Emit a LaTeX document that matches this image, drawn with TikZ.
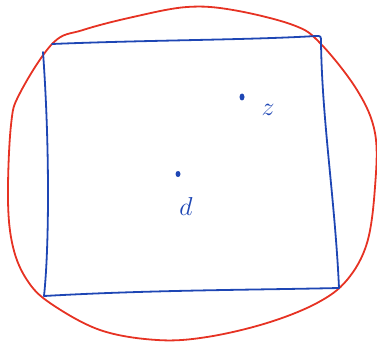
\documentclass[tikz,border=0pt]{standalone}
\usepackage{tikz}
\definecolor{penblue}{RGB}{30,70,180}
\definecolor{penred}{RGB}{230,50,35}
\tikzset{
 bluepen/.style={draw=penblue, line width=1.8pt, line cap=round, line join=round},
 redpen/.style={draw=penred, line width=1.8pt, line cap=round, line join=round},
 pointdot/.style={ellipse, fill=penblue, inner sep=0pt, minimum width=5pt, minimum height=7pt},
 hand/.style={text=penblue, font=\LARGE, scale=1.5}
}
\usetikzlibrary{shapes.geometric}
\begin{document}
\begin{tikzpicture}[x=1pt, y=-1pt]
 \useasboundingbox (0,0) rectangle (377,342);

 % red loop
 \draw[redpen] plot[smooth cycle, tension=0.6] coordinates {
  (53,43) (20,93) (11,125) (8,200) (13,247) (27,280) (50,303) (100,330)
  (157,340) (207,337) (267,323) (317,303) (347,280) (367,243) (375,187)
  (375,133) (357,90) (320,43) (293,25) (233,10) (187,7) (133,17) (83,30)};

 % blue square
 \draw[bluepen] (52,44) .. controls (150,40) and (250,40) .. (316,36)
  .. controls (321,36) .. (321,42)
  .. controls (322,120) and (335,200) .. (339,288)
  .. controls (250,290) and (150,290) .. (44,296)
  .. controls (49,250) and (50,150) .. (43,52);

 % points
 \node[pointdot] (z) at (242,97) {};
 \node[hand] (zlabel) at (268,110) {$z$};
 \node[pointdot, minimum width=5pt, minimum height=6pt] (o) at (178,174) {};
 \node[hand] (olabel) at (186,206) {$d$};
\end{tikzpicture}
\end{document}
